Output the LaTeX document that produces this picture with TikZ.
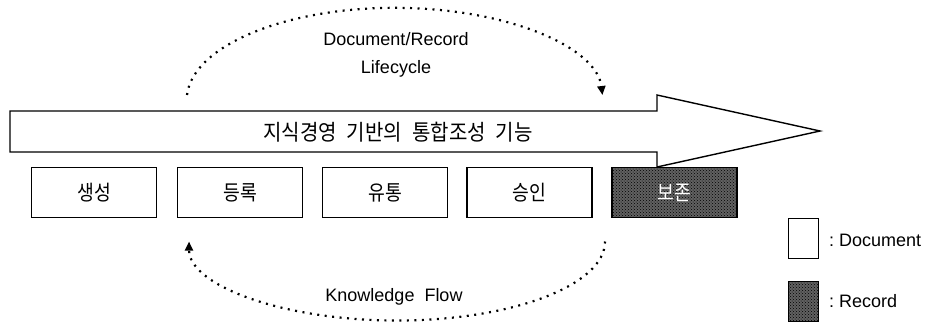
\documentclass[tikz,border=0pt]{standalone}
\usepackage{fontspec}
\setmainfont{Liberation Sans}
\newfontfamily\kr[FakeStretch=0.87]{Noto Sans CJK KR}
\newfontfamily\krwide[FakeStretch=0.91]{Noto Sans CJK KR}
\usetikzlibrary{arrows.meta,patterns}
\begin{document}
\begin{tikzpicture}[x=1pt,y=-1pt,
  stepbox/.style={draw=black, line width=1.3pt, minimum width=125pt, minimum height=50pt, inner sep=0pt, font=\kr\fontsize{21}{21}\selectfont},
  recbox/.style={stepbox, preaction={fill=black!62}, pattern=crosshatch dots, pattern color=black, text=white},
  legbox/.style={draw=black, line width=1.3pt, minimum width=30pt, minimum height=40pt, inner sep=0pt},
  flow/.style={line width=2.2pt, dash pattern=on 2pt off 5.5pt, -{Triangle[length=9pt,width=8pt]}},
  lbl/.style={font=\fontsize{18}{28}\selectfont, align=center, inner sep=0pt},
  bigarrow/.style={draw=black, line width=1.4pt, fill=white, line join=miter}
]
\useasboundingbox (0,0) rectangle (933,325);
% big arrow
\draw[bigarrow] (10,111) -- (657,111) -- (657,95) -- (820,131) -- (657,167) -- (657,152) -- (10,152) -- cycle;
\node[font=\krwide\fontsize{22}{22}\selectfont, inner sep=0pt] (main) at (398,132) {지식경영\hspace{10pt}기반의\hspace{10pt}통합조성\hspace{10pt}기능};
% step boxes
\node[stepbox] (s1) at (94,192.5) {생성};
\node[stepbox] (s2) at (240,192.5) {등록};
\node[stepbox] (s3) at (385,192.5) {유통};
\node[stepbox] (s4) at (529.5,192.5) {승인};
\node[recbox] (s5) at (674.5,192.5) {보존};
% cycles
\coordinate (t1) at (187,95);
\draw[flow] (t1) arc[start angle=183, end angle=357, x radius=208, y radius=92];
\node[lbl] (lc) at (396,55) {Document/Record\\Lifecycle};
\coordinate (b1) at (605,241.5);
\draw[flow] (b1) arc[start angle=0, end angle=180, x radius=208, y radius=79];
\node[lbl] (kf) at (394,297) {Knowledge\ \ Flow};
% legend
\node[legbox] (ld) at (803.5,238.5) {};
\node[lbl, anchor=west] (ldt) at (829,240) {:\ Document};
\node[legbox, preaction={fill=black!62}, pattern=crosshatch dots, pattern color=black] (lr) at (803.5,301.5) {};
\node[lbl, anchor=west] (lrt) at (829,301) {:\ Record};
\end{tikzpicture}
\end{document}
